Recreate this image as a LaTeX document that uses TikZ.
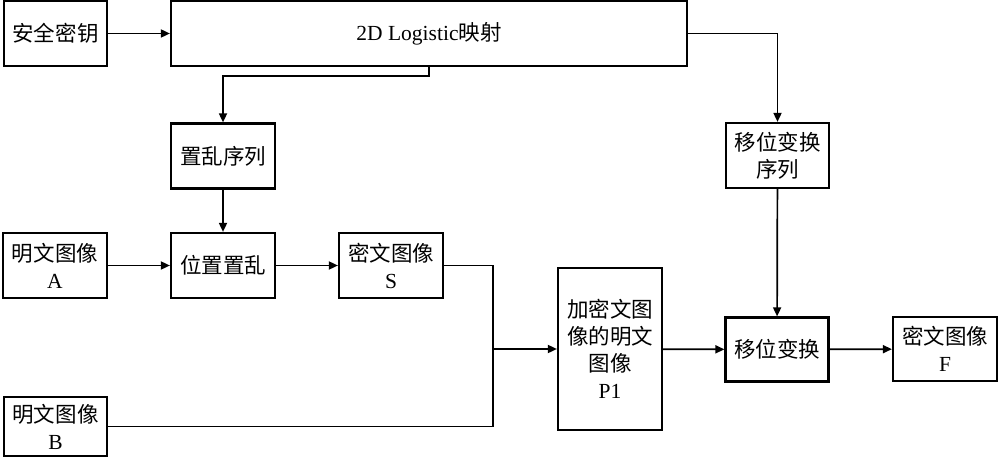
\documentclass[tikz,border=0pt]{standalone}
\usepackage{fontspec}
\setmainfont{Liberation Serif}
\newfontfamily\cjk{Noto Sans CJK SC}
\usetikzlibrary{arrows.meta}

\begin{document}
\begin{tikzpicture}[x=1pt,y=-1pt,
    box/.style={draw,line width=2.2pt,align=center,inner sep=0pt,
      minimum width=104pt,minimum height=65pt,font=\cjk\fontsize{21.5}{27}\selectfont},
    arr/.style={-{Triangle[length=9pt,width=8pt]},line width=1.7pt},
    line/.style={line width=1.7pt}]
    \useasboundingbox (0,0) rectangle (1000,462);
    % top row
    \node[box,minimum width=103pt] (key) at (55.5,33.5) {安全密钥};
    \node[box,minimum width=516pt] (logistic) at (429,33.5) {{\rmfamily 2D Logistic}映射};
    % sequences
    \node[box] (scrseq) at (223,156) {置乱序列};
    \node[box,minimum width=103pt] (shiftseq) at (777.5,155.5) {移位变换\\序列};
    % middle row
    \node[box] (plainA) at (55,265.5) {明文图像\\\rmfamily A};
    \node[box] (posscr) at (223,265.5) {位置置乱};
    \node[box] (cipherS) at (391,265.5) {密文图像\\\rmfamily S};
    \node[box,minimum width=103pt,minimum height=59pt] (plainB) at (55.5,426.5) {明文图像\\\rmfamily B};
    \node[box,minimum height=162pt] (P1) at (610,349) {加密文图\\像的明文\\图像\\\rmfamily P1};
    \node[box,minimum width=103pt,minimum height=64pt] (shift) at (777,349.5) {移位变换};
    \node[box,minimum height=64pt] (cipherF) at (945,349) {密文图像\\\rmfamily F};
    \coordinate (join) at (493,349);

    \draw[arr] (key) -- (logistic);
    \draw[arr] (logistic.south) -- ++(0,9) -| (scrseq.north);
    \draw[arr] (logistic.east) -| (shiftseq.north);
    \draw[arr] (scrseq) -- (posscr);
    \draw[arr] (plainA) -- (posscr);
    \draw[arr] (posscr) -- (cipherS);
    \draw[line] (cipherS.east) -| (join);
    \draw[line] (plainB.east) -| (join);
    \draw[arr] (join) -- (P1.west);
    \draw[arr] (P1) -- (shift);
    \draw[arr] (shiftseq) -- (shift);
    \draw[arr] (shift) -- (cipherF);
  \end{tikzpicture}
\end{document}
